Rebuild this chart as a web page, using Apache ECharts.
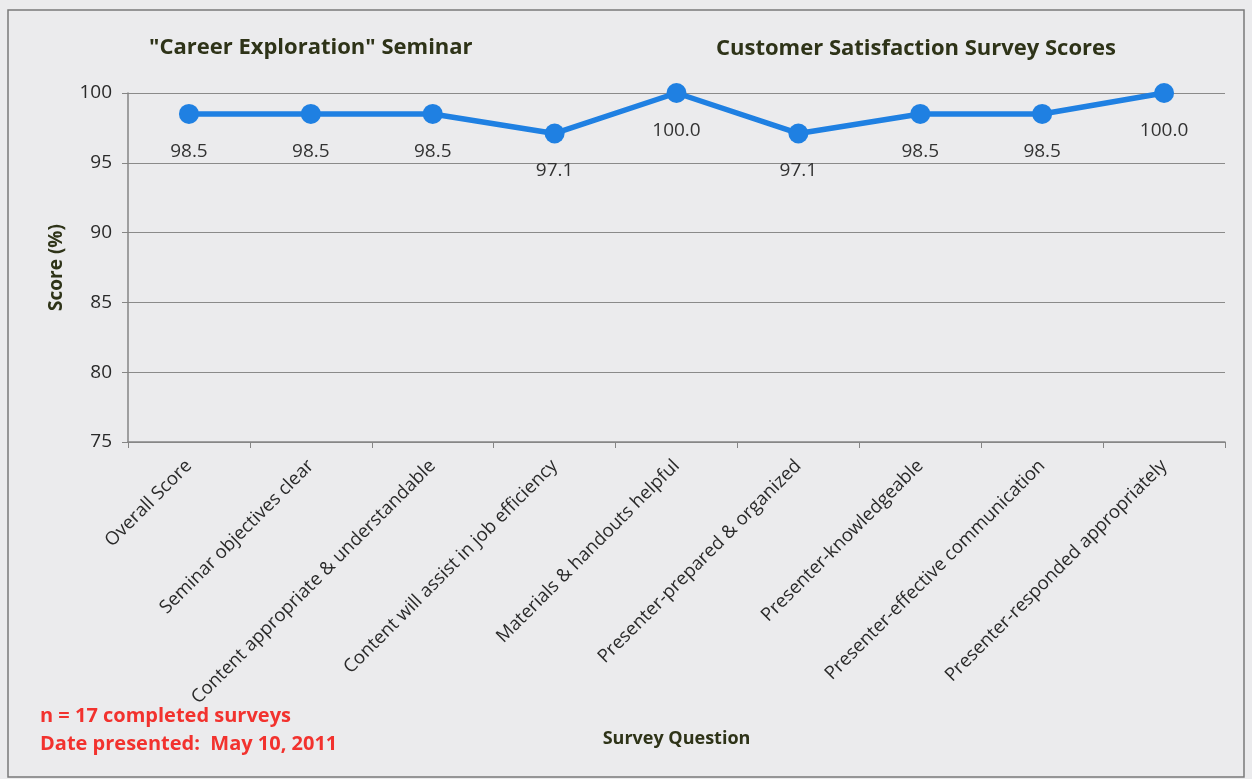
<!DOCTYPE html>
<html>
<head>
<meta charset="utf-8">
<script src="https://cdn.jsdelivr.net/npm/echarts@6/dist/echarts.min.js"></script>
<style>
html,body{margin:0;padding:0;background:#ebebed;}
#c{width:1252px;height:779px;}
</style>
</head>
<body>
<div id="c"></div>
<script>
const categories = [
  "Overall Score",
  "Seminar objectives clear",
  "Content appropriate & understandable",
  "Content will assist in job efficiency",
  "Materials & handouts helpful",
  "Presenter-prepared & organized",
  "Presenter-knowledgeable",
  "Presenter-effective communication",
  "Presenter-responded appropriately"
];
const scores = [98.5, 98.5, 98.5, 97.1, 100.0, 97.1, 98.5, 98.5, 100.0];
const yTicks = [75, 80, 85, 90, 95, 100];
const titleLeft = '"Career Exploration" Seminar';
const titleRight = 'Customer Satisfaction Survey Scores';
const notes = ['n = 17 completed surveys', 'Date presented:  May 10, 2011'];

const chart = echarts.init(document.getElementById('c'));
const FONT = '"Open Sans", "Noto Sans", sans-serif';
const DARK = '#2e3318';
chart.setOption({
  backgroundColor: '#ebebed',
  animation: false,
  title: [
    { text: titleLeft, left: 144, top: 32, textStyle: { fontFamily: FONT, fontSize: 22, fontWeight: 'bold', color: DARK } },
    { text: titleRight, left: 711, top: 33, textStyle: { fontFamily: FONT, fontSize: 22, fontWeight: 'bold', color: DARK } }
  ],
  grid: { left: 128, right: 27, top: 93, bottom: 337 },
  xAxis: {
    type: 'category',
    data: categories,
    boundaryGap: true,
    name: 'Survey Question',
    nameLocation: 'middle',
    nameGap: 288,
    nameTextStyle: { fontFamily: FONT, fontSize: 18, fontWeight: 'bold', color: DARK },
    axisLine: { lineStyle: { color: '#858585', width: 1.5 } },
    axisTick: { show: true, alignWithLabel: false, length: 6, lineStyle: { color: '#858585' } },
    axisLabel: { rotate: 45, interval: 0, margin: 21, fontFamily: FONT, fontSize: 18.5, color: '#2a2a2a' }
  },
  yAxis: {
    type: 'value',
    min: 75, max: 100, interval: 5,
    name: 'Score (%)',
    nameLocation: 'middle',
    nameGap: 62,
    nameRotate: 90,
    nameTextStyle: { fontFamily: FONT, fontSize: 19, fontWeight: 'bold', color: DARK },
    axisLine: { show: true, lineStyle: { color: '#858585', width: 1.5 } },
    axisTick: { show: true, length: 6, lineStyle: { color: '#858585' } },
    axisLabel: { margin: 16, fontFamily: FONT, fontSize: 19, color: '#2a2a2a',
      formatter: v => yTicks.includes(v) ? String(v) : '' },
    splitLine: { show: true, lineStyle: { color: '#8a8a8a', width: 1.2 } }
  },
  series: [{
    type: 'line',
    data: scores,
    symbol: 'circle',
    symbolSize: 20,
    lineStyle: { color: '#1f80e2', width: 5.5 },
    itemStyle: { color: '#1f80e2' },
    label: { show: true, position: 'bottom', distance: 18, fontFamily: FONT, fontSize: 19, color: '#333',
      formatter: p => p.value.toFixed(1) }
  }],
  graphic: [
    { type: 'rect', shape: { x: 8, y: 10, width: 1236, height: 767 }, style: { fill: 'none', stroke: '#7a7a7a', lineWidth: 1.5 }, silent: true },
    { type: 'text', left: 40, top: 706, style: { text: notes[0], fontFamily: FONT, fontSize: 20, fontWeight: 'bold', fill: '#f2322e' } },
    { type: 'text', left: 40, top: 734, style: { text: notes[1], fontFamily: FONT, fontSize: 20, fontWeight: 'bold', fill: '#f2322e' } }
  ]
});
</script>
</body>
</html>
